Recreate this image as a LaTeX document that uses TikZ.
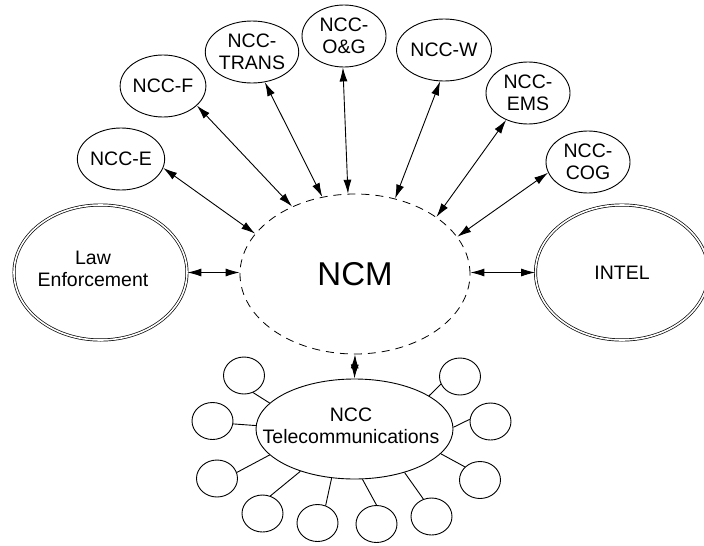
\documentclass[tikz,border=0pt]{standalone}
\usepackage{fontspec}
\setmainfont{Liberation Sans}
\usetikzlibrary{shapes.geometric,arrows.meta}
\begin{document}
\begin{tikzpicture}[x=1pt,y=-1pt,
  every node/.style={font=\fontsize{19.5}{22.5}\selectfont, align=center},
  ncc/.style={ellipse, draw, line width=0.9pt, minimum width=84pt, minimum height=62pt, inner sep=0pt},
  agency/.style={ellipse, draw, double, double distance=1.6pt, line width=0.7pt,
                 minimum width=173pt, minimum height=135pt, inner sep=0pt},
  hub/.style={ellipse, draw, line width=0.8pt, dash pattern=on 8pt off 6pt,
              minimum width=230pt, minimum height=160pt, inner sep=0pt,
              font=\fontsize{33}{36}\selectfont},
  telhub/.style={ellipse, draw, line width=0.9pt, minimum width=197pt, minimum height=100pt, inner sep=0pt},
  satellite/.style={ellipse, draw, line width=0.9pt, minimum width=41pt, minimum height=37pt, inner sep=0pt},
  link/.style={line width=0.9pt},
  biarrow/.style={line width=0.9pt, {Latex[length=14pt,width=8pt]}-{Latex[length=14pt,width=8pt]}}
]
\clip (0,0) rectangle (704,546);

% central hub
\node[hub] (ncm) at (355,274) {NCM};

% agencies on either side
\node[agency] (law) at (100.5,272.5) {};
\node (lawtext) at (93,269) {Law\\Enforcement};
\node[agency] (intel) at (622,272.5) {INTEL};

% sector coordinating centres
\node[ncc] (ncce)     at (121,159) {NCC-E};
\node[ncc] (nccf)     at (163,86)  {NCC-F};
\node[ncc] (ncctrans) at (252,52)  {NCC-\\TRANS};
\node[ncc] (nccog)    at (344,36)  {NCC-\\O\&G};
\node[ncc] (nccw)     at (444,50)  {NCC-W};
\node[ncc] (nccems)   at (528,93)  {NCC-\\EMS};
\node[ncc] (ncccog)   at (588,162) {NCC-\\COG};

% telecommunications hub and its satellites
\node[telhub] (tel) at (354.5,429) {};
\node (teltext) at (351,426) {NCC\\Telecommunications};
\node[satellite] (c1)  at (244,375.5) {};
\node[satellite] (c2)  at (212.5,421) {};
\node[satellite] (c3)  at (217,478.5) {};
\node[satellite] (c4)  at (262.5,513.5) {};
\node[satellite] (c5)  at (317.5,523) {};
\node[satellite] (c6)  at (376.5,524) {};
\node[satellite] (c7)  at (431.5,516.5) {};
\node[satellite] (c8)  at (480,480) {};
\node[satellite] (c9)  at (490.5,421.5) {};
\node[satellite] (c10) at (460,376.5) {};

% two-way links to the hub
\draw[biarrow] (ncce.-12)     -- (ncm.158);
\draw[biarrow] (nccf.-30)     -- (ncm.133);
\draw[biarrow] (ncctrans.-67) -- (ncm.113);
\draw[biarrow] (nccog.-92)    -- (ncm.95);
\draw[biarrow] (nccw.-97)     -- (ncm.62);
\draw[biarrow] (nccems.-129)  -- (ncm.35);
\draw[biarrow] (ncccog.-165)  -- (ncm.20);
\draw[biarrow] (law.east)   -- (law.east -| ncm.west);
\draw[biarrow] (intel.west) -- (intel.west -| ncm.east);
\draw[biarrow] (ncm.south)  -- (tel.north);

% satellite spokes
\draw[link] (c1.-62)  -- (tel.163);
\draw[link] (c2.-8)   -- (tel.178);
\draw[link] (c3.17)   -- (tel.197);
\draw[link] (c4.66)   -- (tel.-142);
\draw[link] (c5.65)   -- (tel.-115);
\draw[link] (c6.90)   -- (tel.-81);
\draw[link] (c7.115)  -- (tel.-41);
\draw[link] (c8.139)  -- (tel.-16);
\draw[link] (c9.174)  -- (tel.1);
\draw[link] (c10.202) -- (tel.24);
\end{tikzpicture}
\end{document}
